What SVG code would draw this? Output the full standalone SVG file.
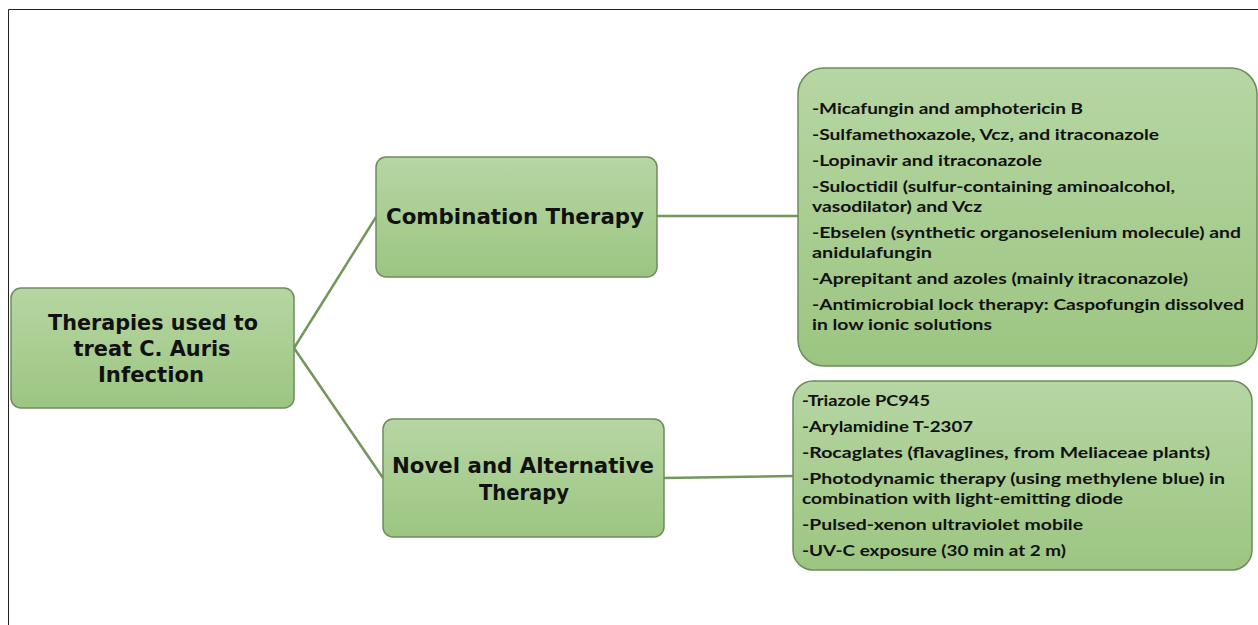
<svg xmlns="http://www.w3.org/2000/svg" width="1258" height="625" viewBox="0 0 1258 625">
<defs>
<linearGradient id="g" x1="0" y1="0" x2="0" y2="1">
<stop offset="0" stop-color="#b6d6a3"/>
<stop offset="1" stop-color="#9cc581"/>
</linearGradient>
<style>
.box{fill:url(#g);stroke:#6f8a5f;stroke-width:1.5}
.h{font-family:"DejaVu Sans","Open Sans",sans-serif;font-weight:700;font-size:22px;fill:#111;text-anchor:middle}
.t{font-family:Lato,"Liberation Sans",sans-serif;font-weight:700;font-size:16px;fill:#111}
.c{fill:none;stroke:#72975a;stroke-width:2.5}
</style>
</defs>
<rect width="1258" height="625" fill="#fff"/>
<path d="M8.5,625 V9.5 H1258" fill="none" stroke="#222" stroke-width="1"/>
<g id="connectors">
<path class="c" d="M294,348 L376,217"/>
<path class="c" d="M294,348 L383,478"/>
<path class="c" d="M657,216 L798,216"/>
<path class="c" d="M664,478 L793,476"/>
</g>
<g id="root">
<rect class="box" x="11" y="288" width="283" height="120" rx="10"/>
<text class="h" x="153" y="330" textLength="210" lengthAdjust="spacingAndGlyphs">Therapies used to</text>
<text class="h" x="152" y="356" textLength="157" lengthAdjust="spacingAndGlyphs">treat C. Auris</text>
<text class="h" x="151" y="382" textLength="106" lengthAdjust="spacingAndGlyphs">Infection</text>
</g>
<g id="combination">
<rect class="box" x="376" y="157" width="281" height="120" rx="10"/>
<text class="h" x="515" y="224" textLength="258" lengthAdjust="spacingAndGlyphs">Combination Therapy</text>
</g>
<g id="novel">
<rect class="box" x="383" y="419" width="281" height="118" rx="10"/>
<text class="h" x="523" y="473" textLength="262" lengthAdjust="spacingAndGlyphs">Novel and Alternative</text>
<text class="h" x="524" y="500" textLength="90" lengthAdjust="spacingAndGlyphs">Therapy</text>
</g>
<g id="combination-list">
<rect class="box" x="798" y="68" width="459" height="298" rx="26"/>
<text class="t" x="812" y="114" textLength="271" lengthAdjust="spacingAndGlyphs">-Micafungin and amphotericin B</text>
<text class="t" x="812" y="140" textLength="347" lengthAdjust="spacingAndGlyphs">-Sulfamethoxazole, Vcz, and itraconazole</text>
<text class="t" x="812" y="166" textLength="230" lengthAdjust="spacingAndGlyphs">-Lopinavir and itraconazole</text>
<text class="t" x="812" y="192" textLength="363" lengthAdjust="spacingAndGlyphs">-Suloctidil (sulfur-containing aminoalcohol,</text>
<text class="t" x="812" y="212" textLength="170" lengthAdjust="spacingAndGlyphs">vasodilator) and Vcz</text>
<text class="t" x="812" y="238" textLength="429" lengthAdjust="spacingAndGlyphs">-Ebselen (synthetic organoselenium molecule) and</text>
<text class="t" x="812" y="258" textLength="120" lengthAdjust="spacingAndGlyphs">anidulafungin</text>
<text class="t" x="812" y="284" textLength="376" lengthAdjust="spacingAndGlyphs">-Aprepitant and azoles (mainly itraconazole)</text>
<text class="t" x="812" y="310" textLength="432" lengthAdjust="spacingAndGlyphs">-Antimicrobial lock therapy: Caspofungin dissolved</text>
<text class="t" x="812" y="330" textLength="180" lengthAdjust="spacingAndGlyphs">in low ionic solutions</text>
</g>
<g id="novel-list">
<rect class="box" x="793" y="381" width="459" height="189" rx="20"/>
<text class="t" x="802" y="406" textLength="128" lengthAdjust="spacingAndGlyphs">-Triazole PC945</text>
<text class="t" x="802" y="432" textLength="171" lengthAdjust="spacingAndGlyphs">-Arylamidine T-2307</text>
<text class="t" x="802" y="458" textLength="408" lengthAdjust="spacingAndGlyphs">-Rocaglates (flavaglines, from Meliaceae plants)</text>
<text class="t" x="802" y="484" textLength="423" lengthAdjust="spacingAndGlyphs">-Photodynamic therapy (using methylene blue) in</text>
<text class="t" x="802" y="504" textLength="321" lengthAdjust="spacingAndGlyphs">combination with light-emitting diode</text>
<text class="t" x="802" y="530" textLength="281" lengthAdjust="spacingAndGlyphs">-Pulsed-xenon ultraviolet mobile</text>
<text class="t" x="802" y="556" textLength="264" lengthAdjust="spacingAndGlyphs">-UV-C exposure (30 min at 2 m)</text>
</g>
</svg>
